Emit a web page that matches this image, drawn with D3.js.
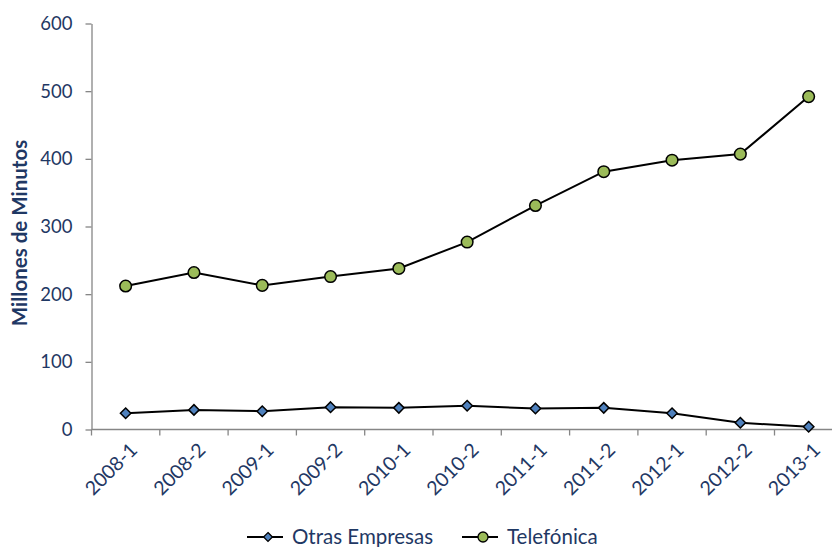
<!DOCTYPE html>
<html>
<head>
<meta charset="utf-8">
<script src="https://cdn.jsdelivr.net/npm/d3@7"></script>
<style>
  html, body { margin: 0; padding: 0; background: #fff; }
  svg { display: block; font-family: Lato, "Open Sans", sans-serif; }
</style>
</head>
<body>
<div id="chart"></div>
<script>
// Data
const periods = ['2008-1', '2008-2', '2009-1', '2009-2', '2010-1', '2010-2',
                 '2011-1', '2011-2', '2012-1', '2012-2', '2013-1'];
const otrasEmpresas = [24, 29, 27, 33, 32, 35, 31, 32, 24, 10, 4];
const telefonica = [212, 232, 213, 226, 238, 277, 331, 381, 398, 407, 492];
const yTicks = [0, 100, 200, 300, 400, 500, 600];
const seriesNames = ['Otras Empresas', 'Telefónica'];

const W = 832, H = 547;
const textColor = '#1F3864';
const axisColor = '#868686';

const svg = d3.select('#chart').append('svg')
    .attr('width', W)
    .attr('height', H);

// Plot area (right side runs past the picture edge, as in the reference)
const left = 91.5, bandW = 68.3;
const x = d3.scaleBand()
    .domain(periods)
    .range([left, left + bandW * periods.length])
    .padding(0);
const y = d3.scaleLinear()
    .domain([0, 600])
    .range([429.5, 23.5]);

const cx = d => x(d) + x.bandwidth() / 2;

// Y axis
const yAxis = svg.append('g')
    .attr('transform', `translate(${left},0)`)
    .call(d3.axisLeft(y).tickValues(yTicks).tickSize(6).tickSizeOuter(0).tickPadding(13));
yAxis.select('.domain').attr('stroke', axisColor).attr('stroke-width', 1.3);
yAxis.selectAll('.tick line').attr('stroke', axisColor).attr('stroke-width', 1.3);
yAxis.selectAll('.tick text')
    .attr('fill', textColor)
    .attr('font-size', 18.5)
    .attr('font-family', 'Lato, sans-serif');

// X axis: ticks on category boundaries
const xAxisG = svg.append('g')
    .attr('transform', `translate(0,${y(0)})`);
xAxisG.append('line')
    .attr('x1', left).attr('x2', W + 20)
    .attr('stroke', axisColor).attr('stroke-width', 1.3);
xAxisG.selectAll('.xtick')
    .data(periods.map(p => x(p)).concat([x.range()[1]]))
    .join('line')
    .attr('class', 'xtick')
    .attr('x1', d => d).attr('x2', d => d)
    .attr('y1', 0).attr('y2', 6)
    .attr('stroke', axisColor).attr('stroke-width', 1.3);
xAxisG.selectAll('.xlabel')
    .data(periods)
    .join('text')
    .attr('class', 'xlabel')
    .attr('transform', d => `translate(${cx(d) + 8},${17}) rotate(-45)`)
    .attr('text-anchor', 'end')
    .attr('dy', '0.35em')
    .attr('fill', textColor)
    .attr('font-size', 19.5)
    .text(d => d);

// Y title
svg.append('text')
    .attr('transform', `translate(27,233) rotate(-90)`)
    .attr('text-anchor', 'middle')
    .attr('fill', textColor)
    .attr('font-size', 20.5)
    .attr('font-weight', 'bold')
    .text('Millones de Minutos');

// Lines
const line = d3.line()
    .x((d, i) => cx(periods[i]))
    .y(d => y(d));

svg.append('path')
    .datum(telefonica)
    .attr('d', line)
    .attr('fill', 'none')
    .attr('stroke', '#000')
    .attr('stroke-width', 2);

svg.append('path')
    .datum(otrasEmpresas)
    .attr('d', line)
    .attr('fill', 'none')
    .attr('stroke', '#000')
    .attr('stroke-width', 2);

const diamond = d3.symbol().type(d3.symbolDiamond2).size(70);

svg.selectAll('.m-otras')
    .data(otrasEmpresas)
    .join('path')
    .attr('class', 'm-otras')
    .attr('d', diamond)
    .attr('transform', (d, i) => `translate(${cx(periods[i])},${y(d)})`)
    .attr('fill', '#4F81BD')
    .attr('stroke', '#000')
    .attr('stroke-width', 1.5);

svg.selectAll('.m-tel')
    .data(telefonica)
    .join('circle')
    .attr('class', 'm-tel')
    .attr('cx', (d, i) => cx(periods[i]))
    .attr('cy', d => y(d))
    .attr('r', 5.8)
    .attr('fill', '#9BBB59')
    .attr('stroke', '#000')
    .attr('stroke-width', 1.5);

// Legend
const legendY = 537;
const legendX = [247, 462];
const legend = svg.append('g');
seriesNames.forEach((name, i) => {
    const g = legend.append('g').attr('transform', `translate(${legendX[i]},${legendY})`);
    g.append('line')
        .attr('x1', 0).attr('x2', 36)
        .attr('stroke', '#000').attr('stroke-width', 2);
    if (i === 0) {
        g.append('path')
            .attr('d', d3.symbol().type(d3.symbolDiamond2).size(50))
            .attr('transform', 'translate(21,0)')
            .attr('fill', '#4F81BD').attr('stroke', '#000').attr('stroke-width', 1.3);
    } else {
        g.append('circle')
            .attr('cx', 21).attr('cy', 0).attr('r', 5)
            .attr('fill', '#9BBB59').attr('stroke', '#000').attr('stroke-width', 1.3);
    }
    g.append('text')
        .attr('x', 45)
        .attr('dy', '0.36em')
        .attr('fill', textColor)
        .attr('font-size', 20.5)
        .text(name);
});
</script>
</body>
</html>
